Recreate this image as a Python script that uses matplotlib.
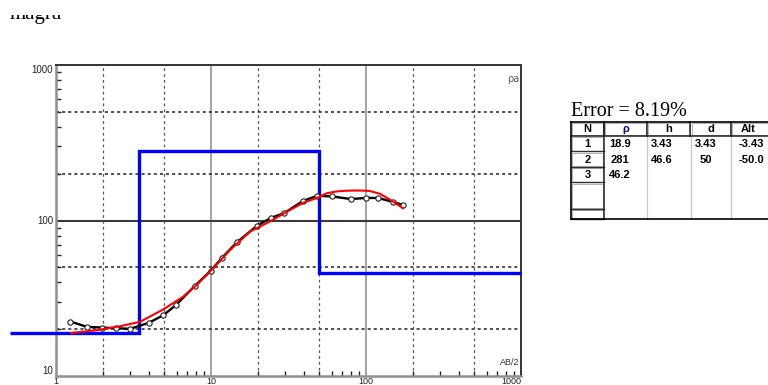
import matplotlib
matplotlib.use("Agg")
import matplotlib.pyplot as plt
from matplotlib.ticker import LogLocator, NullFormatter
from matplotlib.patches import Rectangle

# ---------------- data ----------------
ab2_obs = [1.24, 1.58, 1.98, 2.44, 3.0, 3.98, 4.92, 5.92, 7.85, 9.95, 11.8, 14.8,
           19.8, 24.4, 29.7, 39.4, 48.5, 60.1, 79.7, 99.6, 120, 150, 173]
rho_obs = [22.4, 20.7, 20.5, 20.3, 20.1, 22.0, 24.6, 28.5, 37.9, 47.5, 57.7, 72.9,
           92.4, 104, 111.6, 134, 144, 142.9, 137.4, 139.6, 139.6, 131.5, 126]

ab2_fit = [1.25, 1.83, 2.59, 3.48, 4.92, 6.63, 8.09, 10.1, 13.3, 17.9, 24.0, 32.4,
           39.4, 48.1, 56.0, 64.7, 75.0, 89.2, 105, 123, 143, 173]
rho_fit = [18.9, 19.7, 20.9, 22.3, 26.8, 32.4, 38.5, 48.1, 64.7, 84.9, 98.6, 117,
           130, 139.6, 149.8, 153.8, 155.5, 156, 155, 148.6, 136, 120]

layer_rho = [18.9, 281, 46.2]
layer_depth = [3.43, 50]
model_start, model_end = 0.505, 1000

xticks = [1, 10, 100, 1000]
xtick_labels = ["1", "10", "100", "1000"]
yticks = [10, 100, 1000]
ytick_labels = ["10", "100", "1000"]
dotted_grid = [2, 5, 20, 50, 200, 500]

error_text = "Error = 8.19%"
tab_header = ["N", "ρ", "h", "d", "Alt"]
tab_n = ["1", "2", "3"]
tab_rho = ["18.9", "281", "46.2"]
tab_h = ["3.43", "46.6", ""]
tab_d = ["3.43", "50", ""]
tab_alt = ["-3.43", "-50.0", ""]

# ---------------- figure ----------------
W, H = 768, 385
fig = plt.figure(figsize=(W / 100, H / 100), dpi=100)
fig.patch.set_facecolor("white")

L, R, T, B = 56, 521, 65, 376
ax = fig.add_axes([L / W, 1 - B / H, (R - L) / W, (B - T) / H])
ax.set_xscale("log")
ax.set_yscale("log")
ax.set_xlim(1, 1000)
ax.set_ylim(10, 1000)

# grid
for v in xticks[1:-1]:
    ax.axvline(v, color="#8a8a8a", lw=1.1, zorder=1)
for v in yticks[1:-1]:
    ax.axhline(v, color="#3a3a3a", lw=1.5, zorder=1)
for v in dotted_grid:
    ax.axvline(v, color="#555555", lw=0.9, ls=(0, (2.2, 2.5)), zorder=1)
    ax.axhline(v, color="#222222", lw=1.1, ls=(0, (2, 2)), zorder=1)

# spines
for s in ["left", "bottom"]:
    ax.spines[s].set_color("#909090")
    ax.spines[s].set_linewidth(1.8)
for s in ["top", "right"]:
    ax.spines[s].set_color("#333333")
    ax.spines[s].set_linewidth(1.4)

# ticks
ax.xaxis.set_minor_locator(LogLocator(base=10, subs=(2, 3, 4, 5, 6, 7, 8, 9)))
ax.yaxis.set_minor_locator(LogLocator(base=10, subs=(2, 3, 4, 5, 6, 7, 8, 9)))
ax.xaxis.set_minor_formatter(NullFormatter())
ax.yaxis.set_minor_formatter(NullFormatter())
ax.set_xticks(xticks, xtick_labels)
ax.set_yticks(yticks, ytick_labels)
ax.tick_params(which="major", length=0, labelsize=7, labelcolor="#222222", pad=2)
ax.tick_params(axis="x", which="major", labelsize=6.5, pad=1)
ax.tick_params(which="minor", direction="in", length=3.5, width=1, color="#222222")
for lab in ax.get_xticklabels():
    lab.set_fontfamily("Liberation Sans")
    if lab.get_text() == "1000":
        lab.set_horizontalalignment("right")
for lab in ax.get_yticklabels():
    lab.set_fontfamily("Liberation Sans")
    if lab.get_text() == "1000":
        lab.set_verticalalignment("top")
    elif lab.get_text() == "10":
        lab.set_verticalalignment("bottom")

# model (blue)
edges = [model_start] + layer_depth + [model_end]
ax.stairs(layer_rho, edges, baseline=None, color="#0000ff", lw=2.4,
          clip_on=False, zorder=3)

# observed (black)
ax.plot(ab2_obs, rho_obs, color="black", lw=1.7, marker="o", ms=3.8,
        mfc="white", mec="#222222", mew=0.8, zorder=4)
# fitted (red)
ax.plot(ab2_fit, rho_fit, color="red", lw=1.5, zorder=5)

# axis labels inside
ax.text(0.996, 0.955, "ρa", transform=ax.transAxes, ha="right", va="center",
        fontsize=7, color="#555577", family="DejaVu Sans")
ax.text(0.996, 0.045, "AB/2", transform=ax.transAxes, ha="right", va="center",
        fontsize=6.5, color="#333333", family="Liberation Sans")

# ---------------- overlay for title / table ----------------
ov = fig.add_axes([0, 0, 1, 1], zorder=10)
ov.set_xlim(0, W)
ov.set_ylim(H, 0)
ov.axis("off")

ov.text(10, 19.5, "magra", fontsize=15, family="Liberation Serif",
        ha="left", va="baseline", color="black")
ov.add_patch(Rectangle((0, 0), 120, 15, facecolor="white", edgecolor="none", zorder=20))

ov.text(571, 116, error_text, fontsize=14.5, family="Liberation Serif",
        ha="left", va="baseline", color="black")

cols = [571, 604, 647, 690.5, 731, 790]
rows = [122, 136, 151.5, 167, 182.5, 209, 219]
val_x = [620, 662, 706, 751]
fs_tab = 8

# data area background
ov.add_patch(Rectangle((cols[0], rows[0]), W - cols[0] + 30, rows[-1] - rows[0],
                       facecolor="white", edgecolor="none"))
# light column separators in data area
for cx in cols[2:5]:
    ov.plot([cx, cx], [rows[1], rows[-1]], color="#c8c8c8", lw=0.9)

# header cells
for i in range(5):
    x0, x1 = cols[i], cols[i + 1]
    ov.add_patch(Rectangle((x0 + 1, rows[0] + 1), x1 - x0 - 2, rows[1] - rows[0] - 2,
                           facecolor="white", edgecolor="#b0b0b0", lw=0.7))
    ov.plot([x1 - 0.5, x1 - 0.5], [rows[0], rows[1]], color="#202020", lw=1.1)
    ov.text((x0 + x1) / 2 if i < 4 else 748, (rows[0] + rows[1]) / 2 + 0.5, tab_header[i],
            fontsize=fs_tab, fontweight="bold", family="Liberation Sans",
            ha="center", va="center",
            color="#000080" if tab_header[i] == "ρ" else "black")
ov.plot([cols[0], W + 5], [rows[1] - 0.5, rows[1] - 0.5], color="#202020", lw=1.1)

# N column cells
for r in range(5):
    y0, y1 = rows[r + 1], rows[r + 2]
    ov.add_patch(Rectangle((cols[0] + 1, y0 + 1), cols[1] - cols[0] - 2, y1 - y0 - 2,
                           facecolor="white", edgecolor="#b0b0b0", lw=0.7))
    ov.plot([cols[0], cols[1]], [y1 - 0.5, y1 - 0.5], color="#303030", lw=1.0)
ov.plot([cols[1] - 0.5, cols[1] - 0.5], [rows[0], rows[-1]], color="#202020", lw=1.1)

for r in range(3):
    yc = (rows[r + 1] + rows[r + 2]) / 2 + 0.5
    ov.text((cols[0] + cols[1]) / 2, yc, tab_n[r], fontsize=fs_tab, fontweight="bold",
            family="Liberation Sans", ha="center", va="center")
    for vx, col in zip(val_x, [tab_rho, tab_h, tab_d, tab_alt]):
        if col[r]:
            ov.text(vx, yc, col[r], fontsize=fs_tab, fontweight="bold",
                    family="Liberation Sans", ha="center", va="center")

# outer border
ov.plot([cols[0], cols[0]], [rows[0], rows[-1]], color="black", lw=1.2)
ov.plot([cols[0], W + 5], [rows[0], rows[0]], color="black", lw=1.2)
ov.plot([cols[0], W + 5], [rows[-1], rows[-1]], color="black", lw=1.2)

fig.savefig("out.png", dpi=100, facecolor="white")
